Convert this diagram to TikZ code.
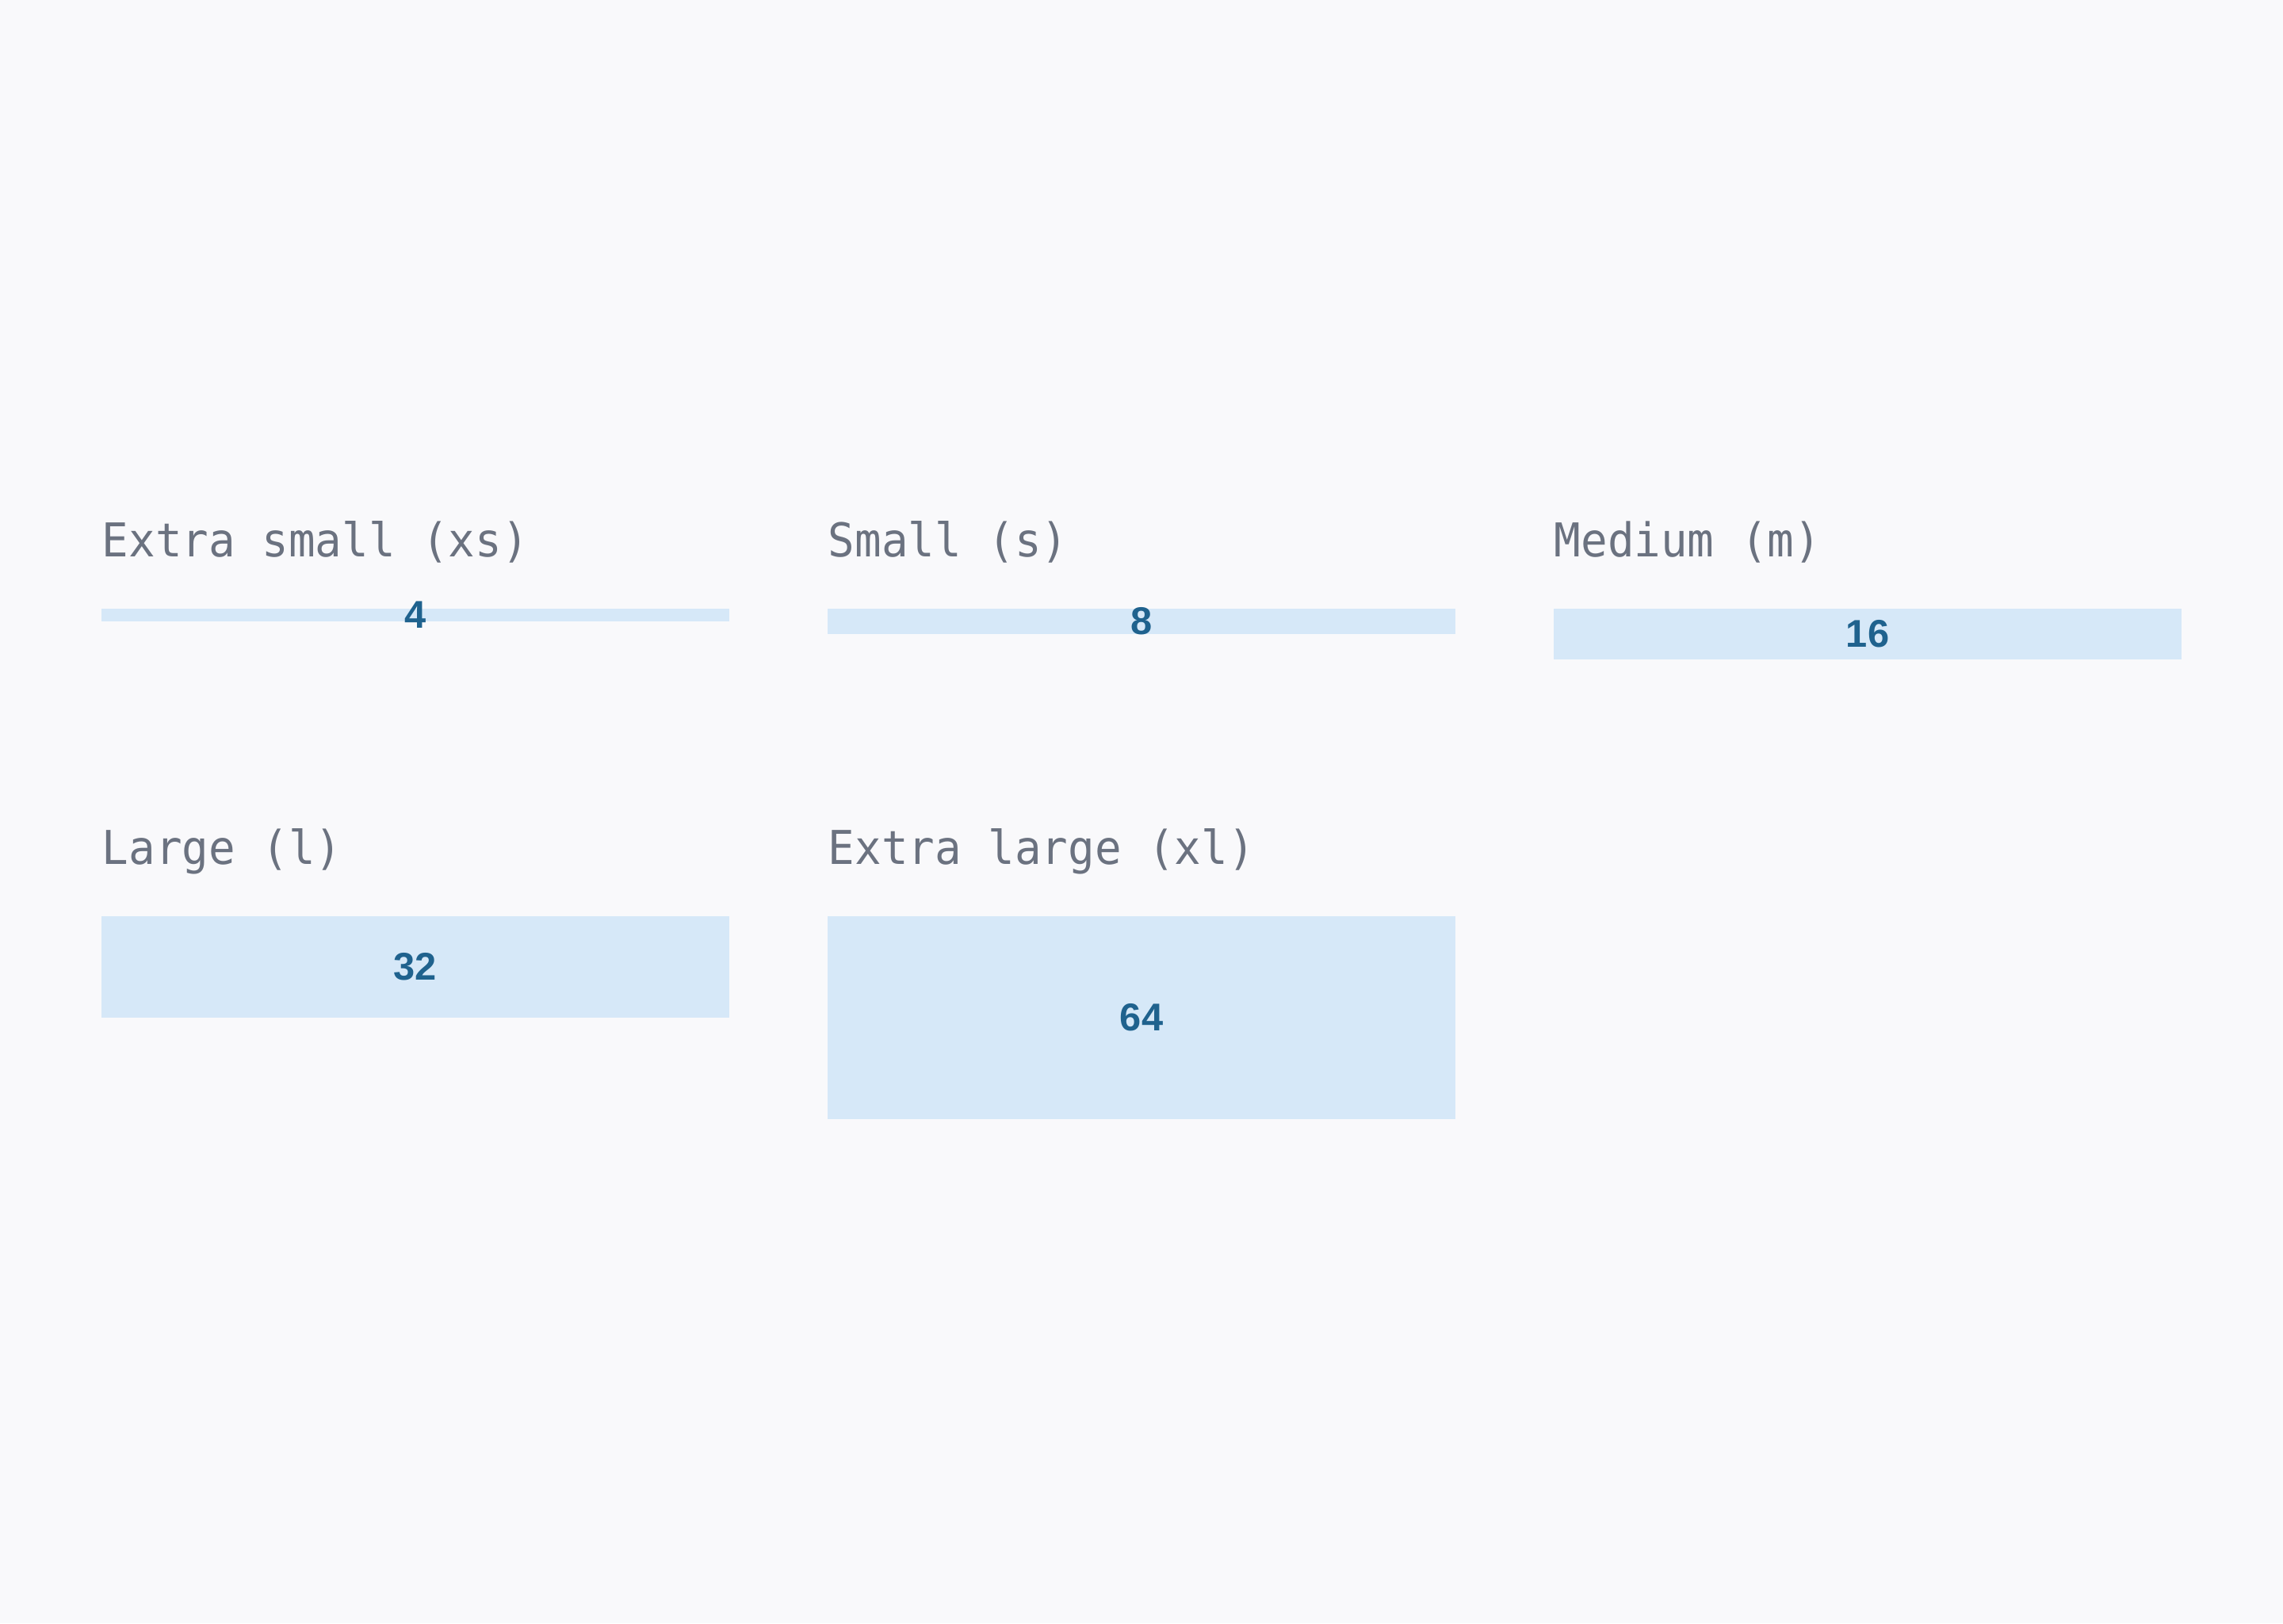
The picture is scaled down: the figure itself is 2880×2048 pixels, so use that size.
\documentclass[tikz,border=0pt]{standalone}
\usepackage{fontspec}
\newfontfamily\labfont[FakeStretch=0.95]{DejaVu Sans Mono}
\newfontfamily\numfont{Liberation Sans Bold}
\definecolor{bgc}{HTML}{F9F9FB}
\definecolor{barc}{HTML}{D6E8F8}
\definecolor{labc}{HTML}{6B7280}
\definecolor{numc}{HTML}{1F628E}
\begin{document}
\begin{tikzpicture}[x=0.25pt,y=-0.25pt,
  lab/.style={anchor=base west,inner sep=0pt,text=labc,font=\labfont\fontsize{14.7pt}{16pt}\selectfont},
  bar/.style={fill=barc,draw=none,inner sep=0pt,minimum width=198pt},
  num/.style={anchor=center,inner sep=0pt,text=numc,font=\numfont\fontsize{12.2pt}{14pt}\selectfont}]
\fill[bgc] (0,0) rectangle (2880,2048);
\useasboundingbox (0,0) rectangle (2880,2048);
% row 1
\node[lab] (lxs) at (128,702) {Extra small (xs)};
\node[lab] (ls) at (1044,702) {Small (s)};
\node[lab] (lm) at (1960,702) {Medium (m)};
\node[bar,minimum height=4pt] (bxs) at (524,776) {};
\node[bar,minimum height=8pt] (bs) at (1440,784) {};
\node[bar,minimum height=16pt] (bm) at (2356,800) {};
\node[num] (nxs) at (bxs.center) {4};
\node[num] (ns) at (bs.center) {8};
\node[num] (nm) at (bm.center) {16};
% row 2
\node[lab] (ll) at (128,1090) {Large (l)};
\node[lab] (lxl) at (1044,1090) {Extra large (xl)};
\node[bar,minimum height=32pt] (bl) at (524,1220) {};
\node[bar,minimum height=64pt] (bxl) at (1440,1284) {};
\node[num] (nl) at (bl.center) {32};
\node[num] (nxl) at (bxl.center) {64};
\end{tikzpicture}
\end{document}
